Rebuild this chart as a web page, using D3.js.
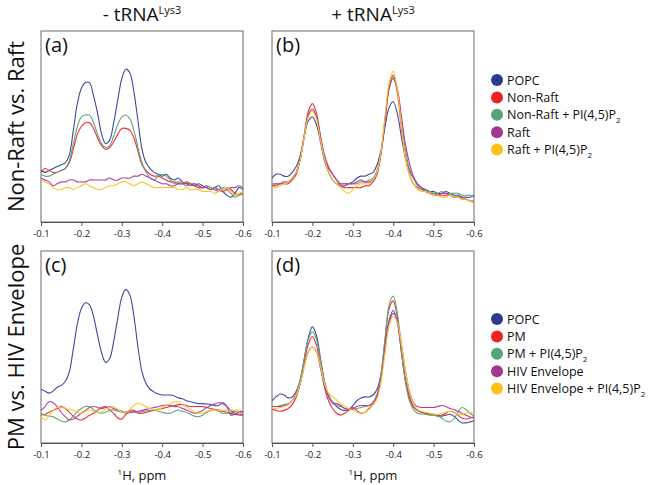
<!DOCTYPE html>
<html><head><meta charset="utf-8">
<script src="https://cdn.jsdelivr.net/npm/d3@7"></script>
<style>body{margin:0;background:#fff} svg{font-family:"Open Sans",sans-serif}</style>
</head><body><svg id="c" width="650" height="485"></svg>
<script>
const ppm = [-0.10,-0.11,-0.12,-0.13,-0.14,-0.15,-0.16,-0.17,-0.18,-0.19,-0.20,-0.21,-0.22,-0.23,-0.24,-0.25,-0.26,-0.27,-0.28,-0.29,-0.30,-0.31,-0.32,-0.33,-0.34,-0.35,-0.36,-0.37,-0.38,-0.39,-0.40,-0.41,-0.42,-0.43,-0.44,-0.45,-0.46,-0.47,-0.48,-0.49,-0.50,-0.51,-0.52,-0.53,-0.54,-0.55,-0.56,-0.57,-0.58,-0.59,-0.60];
const xTicks = [-0.1,-0.2,-0.3,-0.4,-0.5,-0.6];
const colTitles = ["- tRNA","+ tRNA"];
const colSup = "Lys3";
const rowTitles = ["Non-Raft vs. Raft","PM vs. HIV Envelope"];
const panelLabels = ["(a)","(b)","(c)","(d)"];
const xLabel = "H, ppm";
const legendTop = ["POPC","Non-Raft","Non-Raft + PI(4,5)P_2","Raft","Raft + PI(4,5)P_2"];
const legendBottom = ["POPC","PM","PM + PI(4,5)P_2","HIV Envelope","HIV Envelope + PI(4,5)P_2"];
const dotColors = ["#2b3990","#ec2227","#55a47a","#a3368f","#fdc117"];
const lineColors = ["#3d4a9e","#ee2d3a","#5fa57e","#b13fa2","#fcc62a"];

// Panel (a): -tRNA, Non-Raft vs Raft
const a_popc = [27,26,27,28,29,30,31,35,48,62,70,73,73,66,57,46,41,43,52,64,75,80,78,68,53,38,31,28,26,25,24,25,23,22,23,21,20,20,19,20,19,18,17,18,19,16,14,13,15,18,17];
const a_nonraft = [26,28,27,26,26,27,28,31,38,46,50,52,52,49,44,40,38,39,42,46,49,49,48,44,37,30,27,25,24,24,23,22,21,21,20,20,21,20,19,18,18,19,18,17,16,17,18,17,15,14,15];
const a_nonraftPI = [25,24,24,25,26,27,28,32,41,50,55,56,56,52,46,41,39,40,45,51,55,56,54,48,39,31,26,23,22,24,25,24,22,20,21,20,19,20,20,19,18,19,18,17,17,18,17,15,13,14,16];
const a_raft = [23,22,21,19,20,21,21,22,22,21,21,21,22,22,22,22,22,23,22,22,23,23,23,24,24,25,24,23,22,21,20,20,19,19,20,20,20,19,20,19,18,18,17,18,17,16,17,18,18,19,18];
const a_raftPI = [22,21,20,18,17,17,18,18,17,18,19,20,19,18,17,17,18,19,19,20,21,21,20,19,20,21,20,19,18,18,18,18,18,18,17,17,18,17,17,17,16,16,16,15,16,17,18,16,14,15,16];

// Panel (b): +tRNA, Non-Raft vs Raft
const b_popc = [23,25,25,24,24,26,29,35,45,53,55,51,42,32,26,22,20,19,19,20,21,23,24,24,25,26,30,38,50,60,63,57,45,34,27,23,20,18,17,16,16,15,15,16,15,14,14,13,13,13,14];
const b_nonraft = [19,19,20,20,20,22,25,33,46,58,62,57,45,34,28,25,22,19,18,18,18,18,18,19,19,21,25,36,54,71,77,68,50,34,25,20,18,17,16,15,15,14,14,14,14,13,13,12,12,11,10];
const b_nonraftPI = [20,20,20,20,21,23,26,33,45,56,59,55,44,33,26,22,20,20,20,20,20,20,21,21,22,23,27,37,54,70,76,69,53,38,28,23,19,17,16,16,15,15,16,15,15,15,15,14,14,14,13];
const b_raft = [19,20,20,21,21,23,26,33,45,56,59,55,45,35,29,25,22,20,20,20,20,21,22,21,21,22,26,36,53,70,75,70,56,41,31,24,20,18,16,15,14,14,15,15,14,13,13,13,12,11,11];
const b_raftPI = [18,18,19,20,21,23,26,33,45,55,58,54,43,33,26,22,20,18,16,15,17,19,20,20,20,22,26,37,56,73,79,70,51,34,25,20,17,16,16,15,14,14,13,13,14,13,13,12,12,11,10];

// Panel (c): -tRNA, PM vs HIV Envelope
const c_popc = [28,27,26,27,29,30,32,37,49,62,70,73,72,66,56,47,42,44,53,65,76,80,77,66,50,37,31,28,26.5,25.5,25,25,25,24.5,23.5,23,22,21.5,21,20.5,20.5,20.3,20,19.5,19.5,21,19,14.6,15,16,16.5];
const c_pm = [14.6,15,16,17,18,19,18,16,14,12.5,12,13,14.5,15.5,17,18.5,19,17,15.5,13,12.5,15,17,17,15.5,15.5,16,16.5,17,17.5,18,18.5,19,19.5,20,20,19.5,19,19,19,19,18.5,18,17.5,17,16.5,16,15.5,15,14.6,14.5];
const c_pmPI = [15.5,14.5,14,13.7,12.5,11.5,11,12,14,16.5,18,19,18.9,17.5,16,15.5,16,17,17.2,16.5,16,16.3,16.5,16,16,16.3,16.8,17,17.2,16.5,16,15.5,15.5,16.5,17.2,16.5,16,15,14,13.7,14.5,16,17,17.2,16.5,15.5,15.5,16,16.5,16,15.5];
const c_hiv = [17,19,21.5,21,19,16,13.7,12,12.5,14,15.5,17,18.5,19,18.5,18,18.5,18.9,18,17.2,16.5,15.5,15.8,16.2,16.5,17,17.5,18,18.5,18.9,19.5,19.8,19.5,19,18.9,18,17.2,16.2,15.5,16,17,18.5,19.5,20.3,21,20.5,19,17,15.5,15,15];
const c_hivPI = [13.7,12,14,17,18.5,18.5,18,17.5,17,16,15.5,16.5,17.2,16.5,16,16.3,17.5,18.5,18.9,17.5,16,15.8,17.5,19.5,20.7,20,18.9,18,17.2,17.5,18.5,19.5,20.5,21.5,21.5,20,18.9,17.5,16,15.5,15.5,16.5,17.2,17.2,17.2,17,17.2,17.2,17,17.2,17.2];

// Panel (d): +tRNA, PM vs HIV Envelope
const d_popc = [22,24,25.5,25,23.5,24,27,33,44,55,60.5,56,44,32,25,21,19,17.5,17,17.5,19.5,22,23.5,24,24,25,28,36,51,64,69,63,48,33,24,19,17,16,15.5,15,15,14.5,14,14.5,15,14,12,10.5,10.5,11,11.5];
const d_pm = [17.5,17,16.5,17,18,20,24,31,42,51.5,55.5,51,40,29,22,18,15.5,14.5,15.5,17,18.5,17,15.5,16,18,20,24,35,54,70,74,66,48,33,24,19,17,16,15.5,15,14.5,14,14.5,15.5,16.5,16,14.5,13,12.5,13,13.5];
const d_pmPI = [19,19,19.5,20,20.5,22,26,33,44,54,58,54,43,32,25,21,19.5,19,18,17.5,17.5,18,18.5,19,19.5,21,25,36,55,72,76.5,68,49,32,22,17.5,15.5,15,15,14.5,14.5,14,13,11.5,11,12.5,16,18.5,17.5,15.5,14];
const d_hiv = [19,19,19,19.5,20,22,25,31,40,47.5,50,47.5,39,30,24,21,20.5,19.5,18,17.5,18,19,19.5,19.5,19.5,21,25,34,50,63,67.5,64,52,38,27,21,19,18.5,18.5,18.5,18.5,19,19.5,19,18,17.5,16.5,15.5,14.5,13.5,13];
const d_hivPI = [18,18,18.5,19,20,22,25,31,40,47.5,50,47.5,40,31,26,24,22.5,20.5,19,18,17,16,15.5,16,17.5,20,23,32,47,61,66,63,52,38,27,20.5,17.5,16.5,16,15.5,15,15,15.5,16,16.5,16,15,15,15.5,16,15.5];

const panels = [
  {label: panelLabels[0], col: 0, row: 0, series: [a_popc, a_nonraft, a_nonraftPI, a_raft, a_raftPI]},
  {label: panelLabels[1], col: 1, row: 0, series: [b_popc, b_nonraft, b_nonraftPI, b_raft, b_raftPI]},
  {label: panelLabels[2], col: 0, row: 1, series: [c_popc, c_pm, c_pmPI, c_hiv, c_hivPI]},
  {label: panelLabels[3], col: 1, row: 1, series: [d_popc, d_pm, d_pmPI, d_hiv, d_hivPI]}
];

const svg = d3.select("#c");
const colX = [[41, 243], [272, 474]];
const rowY = [[31, 222], [251, 443]];

panels.forEach(p => {
  const [x0, x1] = colX[p.col], [y0, y1] = rowY[p.row];
  const x = d3.scaleLinear().domain([-0.1, -0.6]).range([x0, x1]);
  const y = d3.scaleLinear().domain([0, 100]).range([y1, y0]);
  const g = svg.append("g");
  g.append("rect").attr("x", x0).attr("y", y0).attr("width", x1 - x0).attr("height", y1 - y0)
    .attr("fill", "none").attr("stroke", "#6b6b6b").attr("stroke-width", 1);
  const line = d3.line().x((d, i) => x(ppm[i])).y(d => y(d)).curve(d3.curveCatmullRom.alpha(0.5));
  p.series.forEach((s, i) => {
    g.append("path").attr("d", line(s)).attr("fill", "none")
      .attr("stroke", lineColors[i]).attr("stroke-width", 1.1);
  });
  const ax = g.append("g").attr("transform", `translate(0,${y1})`)
    .call(d3.axisBottom(x).tickValues(xTicks).tickSize(4).tickPadding(4).tickFormat(d => d.toFixed(1)));
  ax.select(".domain").attr("stroke", "#555");
  ax.selectAll(".tick line").attr("stroke", "#555");
  ax.selectAll("text").attr("font-size", 9.5).attr("fill", "#222").attr("font-family", "Open Sans");
  g.append("text").attr("x", x0 + 4).attr("y", y0 + 21).attr("font-size", 20).attr("fill", "#111").text(p.label);
});

// column titles
colTitles.forEach((t, i) => {
  const cx = (colX[i][0] + colX[i][1]) / 2;
  const tx = svg.append("text").attr("x", cx).attr("y", 21).attr("text-anchor", "middle")
    .attr("font-size", 19).attr("fill", "#111");
  tx.append("tspan").text(t);
  tx.append("tspan").attr("font-size", 11).attr("dy", -7).text(colSup);
});

// x labels
colX.forEach(c => {
  const tx = svg.append("text").attr("x", (c[0] + c[1]) / 2).attr("y", 480).attr("text-anchor", "middle")
    .attr("font-size", 13).attr("fill", "#111");
  tx.append("tspan").attr("font-size", 8).attr("dy", -5).text("1");
  tx.append("tspan").attr("dy", 5).text(xLabel);
});

// row titles
rowTitles.forEach((t, i) => {
  const cy = (rowY[i][0] + rowY[i][1]) / 2;
  svg.append("text").attr("transform", `translate(24,${cy}) rotate(-90)`).attr("text-anchor", "middle")
    .attr("font-size", 22).attr("fill", "#111").text(t);
});

// legends
function drawLegend(names, top) {
  names.forEach((n, i) => {
    const yy = top + i * 17.4;
    svg.append("circle").attr("cx", 497).attr("cy", yy).attr("r", 6).attr("fill", dotColors[i]);
    const parts = n.split("_");
    const tx = svg.append("text").attr("x", 507).attr("y", yy + 4.5).attr("font-size", 12.5).attr("fill", "#111");
    tx.append("tspan").text(parts[0]);
    if (parts[1]) tx.append("tspan").attr("font-size", 8).attr("dy", 4).text(parts[1]);
  });
}
drawLegend(legendTop, 80);
drawLegend(legendBottom, 319);
</script></body></html>
